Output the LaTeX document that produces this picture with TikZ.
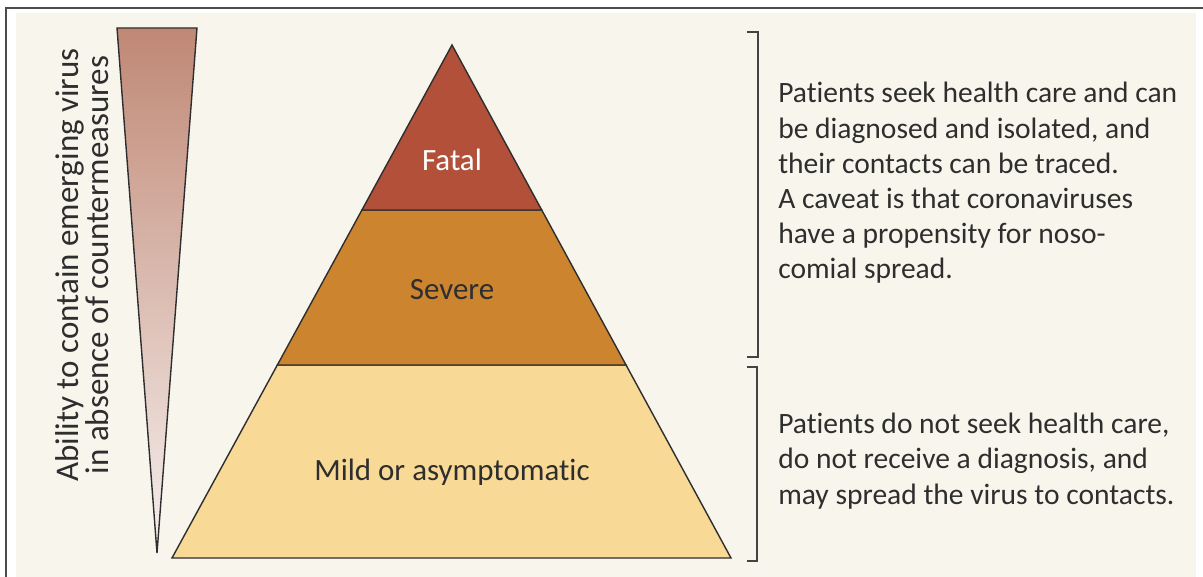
\documentclass[tikz,border=0pt]{standalone}
\usepackage{fontspec}
\setmainfont{Carlito}[Ligatures=NoCommon]
\usetikzlibrary{calc, positioning}
\definecolor{cream}{HTML}{F8F6EC}
\definecolor{fatalred}{HTML}{B3503A}
\definecolor{severeorange}{HTML}{CC842F}
\definecolor{mildyellow}{HTML}{F8D995}
\definecolor{wedgetop}{HTML}{C08875}
\definecolor{wedgebot}{HTML}{F6F0EE}
\definecolor{inkgray}{HTML}{2E2E2E}

\begin{document}
\begin{tikzpicture}[
        x=0.025cm, y=-0.025cm,
        font=\fontsize{21}{25}\selectfont, text=inkgray,
        tier/.style={draw=inkgray, line width=1pt, line join=miter},
        tierlabel/.style={inner sep=0pt, align=center},
        note/.style={inner sep=0pt, align=left, anchor=west},
        bracket/.style={draw=inkgray!90, line width=1.4pt}
    ]
        % page and frame
        \useasboundingbox (0,0) rectangle (1203,577);
        \fill[white] (0,0) rectangle (1203,577);
        \fill[cream] (16,13) rectangle (1196,577);
        \draw[line width=1.6pt, gray!60!black] (6,577) -- (6,8) -- (1203,8);

        % wedge
        \path[draw=inkgray, line width=1pt, top color=wedgetop, bottom color=wedgebot]
            (117,28) -- (197,28) -- (157,553) -- cycle;
        \node[tierlabel, rotate=90, font=\fontsize{23.5}{21.5}\selectfont] (ability) at (82,265)
            {Ability to contain emerging virus\\in absence of countermeasures};

        % pyramid
        \coordinate (apex) at (452,45);
        \coordinate (bl) at (172,558);
        \coordinate (br) at (731,558);
        \coordinate (fl) at ($(apex)!0.3216!(bl)$);
        \coordinate (fr) at ($(apex)!0.3216!(br)$);
        \coordinate (sl) at ($(apex)!0.6238!(bl)$);
        \coordinate (sr) at ($(apex)!0.6238!(br)$);

        \path[tier, fill=mildyellow]   (sl) -- (sr) -- (br) -- (bl) -- cycle;
        \path[tier, fill=severeorange] (fl) -- (fr) -- (sr) -- (sl) -- cycle;
        \path[tier, fill=fatalred]     (apex) -- (fr) -- (fl) -- cycle;

        \node[tierlabel, text=white, font=\fontsize{22}{25}\selectfont] (fatal) at (452,160) {Fatal};
        \node[tierlabel, font=\fontsize{22}{25}\selectfont] (severe) at (452,290) {Severe};
        \node[tierlabel, font=\fontsize{22}{25}\selectfont] (mild)   at (452,472) {Mild or asymptomatic};

        % brackets
        \path[bracket] (747,32) -- (758,32) -- (758,357) -- (747,357);
        \path[bracket] (747,367) -- (757,367) -- (757,561) -- (747,561);

        \node[note] (seek) at (778,183)
            {Patients seek health care and can\\be diagnosed and isolated, and\\their contacts can be traced.\\A caveat is that coronaviruses\\have a propensity for noso-\\comial spread.};
        \node[note] (noseek) at (778,461)
            {Patients do not seek health care,\\do not receive a diagnosis, and\\may spread the virus to contacts.};
    \end{tikzpicture}
\end{document}
